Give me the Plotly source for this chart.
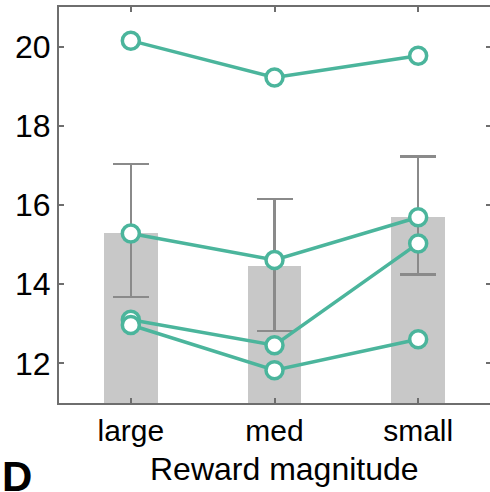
import plotly.graph_objects as go

# Reward conditions along the x axis
categories = ["large", "med", "small"]

# Group means (grey bars) and their error-bar extents
bar_means = [15.3, 14.45, 15.7]
err_plus = [1.73, 1.70, 1.53]
err_minus = [1.62, 1.63, 1.45]

# Individual subjects (teal lines with open circles)
subject_1 = [20.15, 19.22, 19.77]
subject_2 = [15.28, 14.61, 15.69]
subject_3 = [13.10, 12.46, 15.03]
subject_4 = [12.97, 11.83, 12.61]
subjects = [subject_1, subject_2, subject_3, subject_4]

y_ticks = [12, 14, 16, 18, 20]

TEAL = "#4BB59C"
BAR_GREY = "#C8C8C8"
ERR_GREY = "#8A8A8A"
AXIS_GREY = "#6E6E6E"
FONT = "Liberation Sans, Arial, sans-serif"

# plot area in pixels
L, T, W, H = 59, 7, 431, 396

fig = go.Figure()

fig.add_trace(go.Bar(
    x=categories, y=bar_means, width=0.375,
    marker=dict(color=BAR_GREY, line=dict(width=0)),
    error_y=dict(type="data", symmetric=False, array=err_plus, arrayminus=err_minus,
                 color=ERR_GREY, thickness=2.5, width=18),
    showlegend=False, hoverinfo="skip",
))

for vals in subjects:
    fig.add_trace(go.Scatter(
        x=categories, y=vals, mode="lines+markers",
        line=dict(color=TEAL, width=3.5),
        marker=dict(size=17, color="white", line=dict(color=TEAL, width=3.5)),
        showlegend=False,
    ))

# invisible trace so the right-hand tick axis is rendered
fig.add_trace(go.Scatter(x=categories, y=bar_means, yaxis="y2", mode="markers",
                         marker=dict(opacity=0), showlegend=False, hoverinfo="skip"))

fig.update_layout(
    width=490, height=492,
    margin=dict(l=L, r=490 - L - W, t=T, b=492 - T - H),
    plot_bgcolor="white", paper_bgcolor="white",
    font=dict(family=FONT, color="black"),
    bargap=0,
    xaxis=dict(
        range=[-0.5, 2.5],
        showline=True, linecolor=AXIS_GREY, linewidth=2, mirror="ticks",
        ticks="inside", ticklen=5, tickwidth=1.5, tickcolor=AXIS_GREY,
        tickfont=dict(size=30, family=FONT, color="black"),
        showgrid=False, zeroline=False,
    ),
    yaxis=dict(
        range=[11, 21],
        tickvals=y_ticks,
        showline=True, linecolor=AXIS_GREY, linewidth=2, mirror=False,
        ticks="inside", ticklen=5, tickwidth=1.5, tickcolor=AXIS_GREY,
        tickfont=dict(size=32, family=FONT, color="black"),
        showgrid=False, zeroline=False,
    ),
    yaxis2=dict(
        overlaying="y", side="right", matches="y", range=[11, 21],
        tickvals=y_ticks, showticklabels=False,
        showline=False, ticks="inside", ticklen=4, tickwidth=1.5, tickcolor=AXIS_GREY,
        showgrid=False, zeroline=False,
    ),
    annotations=[
        dict(
            text="Reward magnitude", xref="paper", yref="paper",
            x=(284 - L) / W, y=-(450 - (T + H)) / H, xanchor="center", yanchor="top",
            showarrow=False, borderpad=0,
            font=dict(size=32, family=FONT, color="black"),
        ),
        dict(
            text="<b>D</b>", xref="paper", yref="paper",
            x=-(L - 1) / W, y=-(451.5 - (T + H)) / H, xanchor="left", yanchor="top",
            showarrow=False, borderpad=0,
            font=dict(size=42, family=FONT, color="black"),
        ),
    ],
)

fig.write_html("out.html")
